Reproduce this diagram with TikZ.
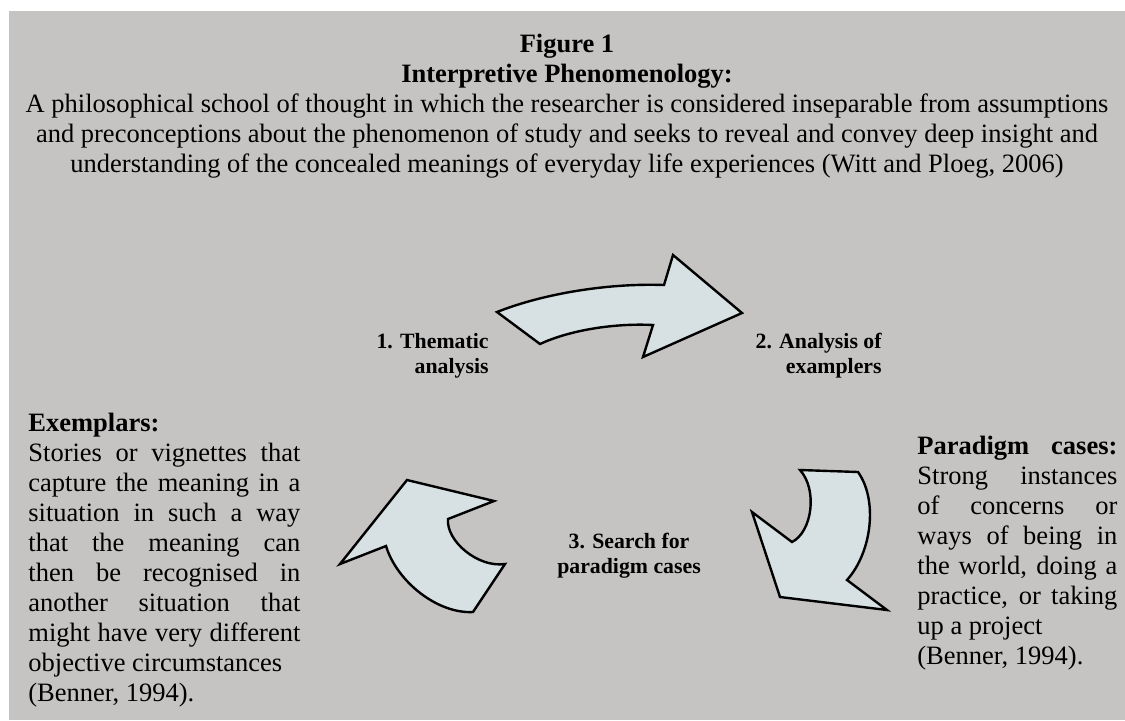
\documentclass[tikz,border=0pt]{standalone}
\usepackage{fontspec}
\setmainfont{Liberation Serif}
\usetikzlibrary{positioning}

\definecolor{panelgray}{RGB}{198,196,195}
\definecolor{arrowblue}{RGB}{215,225,228}

\tikzset{
  cycarrow/.style={draw=black, line width=1.2pt, fill=arrowblue, line join=miter},
  blurb/.style={inner sep=0pt, font=\fontsize{13.25}{15}\selectfont},
  steplabel/.style={inner sep=0pt, font=\fontsize{10.9}{12.5}\selectfont\bfseries}
}

\begin{document}
\begin{tikzpicture}[x=0.5pt, y=-0.5pt]
  \fill[white] (0,0) rectangle (1125,720);
  \fill[panelgray] (9,11) rectangle (1125,720);
  \useasboundingbox (0,0) rectangle (1125,720);

  % heading
  \node[blurb, anchor=north, align=center] (heading) at (567,34)
    {\textbf{Figure 1}\\
     \textbf{Interpretive Phenomenology:}\\
     A philosophical school of thought in which the researcher is considered inseparable from assumptions\\
     and preconceptions about the phenomenon of study and seeks to reveal and convey deep insight and\\
     understanding of the concealed meanings of everyday life experiences (Witt and Ploeg, 2006)};

  % the three cycle arrows
  \draw[cycarrow] (497,312) .. controls (545,293) and (610,283) .. (664,285)
    -- (673,255) -- (742,313) -- (643,357) -- (653,325)
    .. controls (615,323) and (570,330) .. (540,344) -- cycle;
  \draw[cycarrow] (800,470) -- (858,472) .. controls (878,500) and (872,552) .. (847,580)
    -- (887,610) -- (780,597) -- (752,512) -- (792,542)
    .. controls (812,532) and (818,490) .. (800,470) -- cycle;
  \draw[cycarrow] (505,564) -- (473,612) .. controls (438,614) and (397,582) .. (386,546)
    -- (340,564) -- (407,480) -- (494,501) -- (448,519)
    .. controls (446,541) and (478,568) .. (505,564) -- cycle;

  % step labels
  \node[steplabel, anchor=north east, align=right] (thematic) at (489,333) {1. Thematic\\analysis};
  \node[steplabel, anchor=north east, align=right] (analysis) at (882,333) {2. Analysis of\\examplers};
  \node[steplabel, anchor=north, align=center] (search) at (629,533) {3. Search for\\paradigm cases};

  % side notes
  \node[blurb, anchor=north west, text width=136pt, align=justify] (exemplars) at (28,413)
    {\textbf{Exemplars:}\\
     Stories or vignettes that\linebreak
     capture the meaning in a\linebreak
     situation in such a way\linebreak
     that the meaning can\linebreak
     then be recognised in\linebreak
     another situation that\linebreak
     might have very different\linebreak
     objective circumstances\\
     (Benner, 1994).};
  \node[blurb, anchor=north west, text width=100pt, align=justify] (paradigm) at (917,436)
    {\textbf{Paradigm cases:}\linebreak
     Strong instances\linebreak
     of concerns or\linebreak
     ways of being in\linebreak
     the world, doing a\linebreak
     practice, or taking\linebreak
     up a project\\
     (Benner, 1994).};
\end{tikzpicture}
\end{document}
